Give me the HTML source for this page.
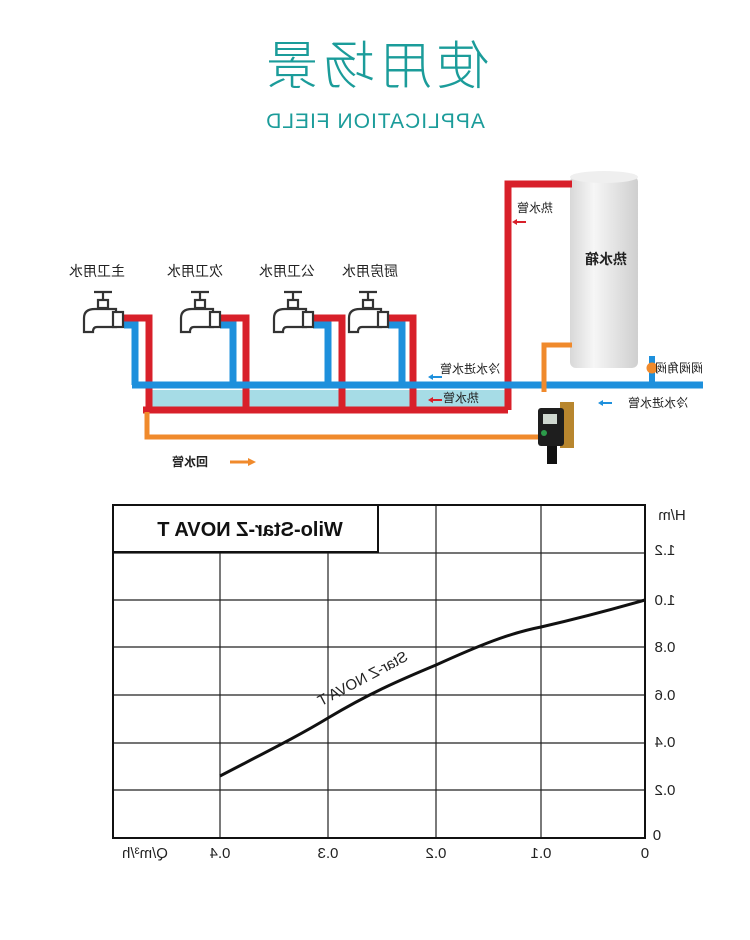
<!DOCTYPE html>
<html><head><meta charset="utf-8"><style>
html,body{margin:0;padding:0;background:#fff;}
svg{display:block;}
text{font-family:"Liberation Sans","Noto Sans CJK SC",sans-serif;}
</style></head><body>
<svg width="750" height="940" viewBox="0 0 750 940" xmlns="http://www.w3.org/2000/svg">
<text transform="translate(375,84) scale(-1,1)" text-anchor="middle" font-size="52" fill="#1b9c9a" font-family="Noto Sans CJK SC, sans-serif" font-weight="300" letter-spacing="5">使用场景</text>
<text transform="translate(375,128) scale(-1,1)" text-anchor="middle" font-size="21" fill="#1b9c9a" letter-spacing="1">APPLICATION FIELD</text>

<defs><linearGradient id="tk" x1="0" x2="1"><stop offset="0" stop-color="#d8d8d8"/><stop offset="0.35" stop-color="#f6f6f6"/><stop offset="1" stop-color="#cfcfcf"/></linearGradient></defs>
<rect x="570" y="176" width="68" height="192" rx="6" fill="url(#tk)"/>
<ellipse cx="604" cy="177" rx="34" ry="6" fill="#efefef"/>
<text transform="translate(606,264) scale(-1,1)" text-anchor="middle" font-size="14" font-weight="bold" fill="#222">热水箱</text>

<rect x="150" y="390" width="358" height="17" fill="#a6dce6"/>
<path d="M508 410 V184 H572" fill="none" stroke="#d8202a" stroke-width="7"/>
<path d="M143 410 H508" fill="none" stroke="#d8202a" stroke-width="7"/>
<path d="M124 318 H149 V410" fill="none" stroke="#d8202a" stroke-width="7"/>
<path d="M220 318 H246 V410" fill="none" stroke="#d8202a" stroke-width="7"/>
<path d="M313 318 H342 V410" fill="none" stroke="#d8202a" stroke-width="7"/>
<path d="M388 318 H413 V410" fill="none" stroke="#d8202a" stroke-width="7"/>
<path d="M124 325 H135 V385" fill="none" stroke="#1e90dc" stroke-width="7"/>
<path d="M220 325 H233 V385" fill="none" stroke="#1e90dc" stroke-width="7"/>
<path d="M313 325 H328 V385" fill="none" stroke="#1e90dc" stroke-width="7"/>
<path d="M388 325 H402 V385" fill="none" stroke="#1e90dc" stroke-width="7"/>
<path d="M132 385 H703" fill="none" stroke="#1e90dc" stroke-width="7"/>
<path d="M652 385 V356" fill="none" stroke="#1e90dc" stroke-width="6"/>
<circle cx="652" cy="368" r="5.5" fill="#f08a2c"/>
<path d="M572 345 H544 V392" fill="none" stroke="#f08a2c" stroke-width="5"/>
<path d="M147 412 V437 H540" fill="none" stroke="#f08a2c" stroke-width="5"/>
<rect x="560" y="402" width="14" height="46" fill="#b8862e"/>
<rect x="538" y="408" width="26" height="38" rx="3" fill="#1e1e1e"/>
<rect x="543" y="414" width="14" height="10" fill="#cfd8d0"/>
<circle cx="544" cy="433" r="3" fill="#2c9c4a"/>
<rect x="547" y="446" width="10" height="18" fill="#111"/>
<g fill="#fff" stroke="#333" stroke-width="2.2">
<g id="f1">
<path d="M94 292 H112 M103 292 V300"/>
<rect x="98" y="300" width="10" height="8"/>
<path d="M84 332 V318 Q84 309 95 309 H116 V327 H97 Q93 327 93 332 Z"/>
<rect x="113" y="312" width="10" height="15"/>
</g>
<use href="#f1" x="97"/>
<use href="#f1" x="190"/>
<use href="#f1" x="265"/>
</g>
<g font-size="14" fill="#222">
<text transform="translate(97,276) scale(-1,1)" text-anchor="middle">主卫用水</text>
<text transform="translate(195,276) scale(-1,1)" text-anchor="middle">次卫用水</text>
<text transform="translate(287,276) scale(-1,1)" text-anchor="middle">公卫用水</text>
<text transform="translate(370,276) scale(-1,1)" text-anchor="middle">厨房用水</text>
<text transform="translate(535,212) scale(-1,1)" text-anchor="middle" font-size="12">热水管</text>
<text transform="translate(470,373) scale(-1,1)" text-anchor="middle" font-size="12">冷水进水管</text>
<text transform="translate(461,402) scale(-1,1)" text-anchor="middle" font-size="12">热水管</text>
<text transform="translate(658,407) scale(-1,1)" text-anchor="middle" font-size="12">冷水进水管</text>
<text transform="translate(679,372) scale(-1,1)" text-anchor="middle" font-size="12">阀阀角阀</text>
<text transform="translate(190,466) scale(-1,1)" text-anchor="middle" font-size="12" font-weight="bold">回水管</text>
</g>
<path d="M526 222 H514" stroke="#d8202a" stroke-width="2"/><path d="M512 222 l5 -3 v6z" fill="#d8202a"/>
<path d="M442 377 H432" stroke="#1e90dc" stroke-width="2"/><path d="M428 377 l5 -3 v6z" fill="#1e90dc"/>
<path d="M442 400 H432" stroke="#d8202a" stroke-width="2"/><path d="M428 400 l5 -3 v6z" fill="#d8202a"/>
<path d="M612 403 H602" stroke="#1e90dc" stroke-width="2"/><path d="M598 403 l5 -3 v6z" fill="#1e90dc"/>
<path d="M230 462 H248" stroke="#f08a2c" stroke-width="3"/><path d="M256 462 l-8 -4 v8z" fill="#f08a2c"/>

<g stroke="#222" stroke-width="1.2" fill="none">
<line x1="113" y1="553" x2="645" y2="553"/>
<line x1="113" y1="600" x2="645" y2="600"/>
<line x1="113" y1="647" x2="645" y2="647"/>
<line x1="113" y1="695" x2="645" y2="695"/>
<line x1="113" y1="743" x2="645" y2="743"/>
<line x1="113" y1="790" x2="645" y2="790"/>
<line x1="220" y1="553" x2="220" y2="838"/>
<line x1="328" y1="553" x2="328" y2="838"/>
<line x1="436" y1="505" x2="436" y2="838"/>
<line x1="541" y1="505" x2="541" y2="838"/>
</g>
<rect x="113" y="505" width="532" height="333" fill="none" stroke="#111" stroke-width="2"/>
<rect x="113" y="505" width="265" height="47" fill="#fff" stroke="#111" stroke-width="2"/>
<text transform="translate(250,536) scale(-1,1)" text-anchor="middle" font-size="20" font-weight="bold" fill="#111">Wilo-Star-Z NOVA T</text>
<path d="M220 776 C270 750 300 735 328 718 C370 693 400 680 436 665 C480 645 510 633 541 627 C580 618 610 610 645 600" fill="none" stroke="#111" stroke-width="3"/>
<text transform="translate(365,683) rotate(-28) scale(-1,1)" text-anchor="middle" font-size="15" fill="#222">Star-Z NOVA T</text>
<g font-size="15" fill="#222">
<text transform="translate(672,520) scale(-1,1)" text-anchor="middle">H/m</text>
<text transform="translate(665,555) scale(-1,1)" text-anchor="middle">1.2</text>
<text transform="translate(665,605) scale(-1,1)" text-anchor="middle">1.0</text>
<text transform="translate(665,652) scale(-1,1)" text-anchor="middle">0.8</text>
<text transform="translate(665,700) scale(-1,1)" text-anchor="middle">0.6</text>
<text transform="translate(665,747) scale(-1,1)" text-anchor="middle">0.4</text>
<text transform="translate(665,795) scale(-1,1)" text-anchor="middle">0.2</text>
<text transform="translate(657,840) scale(-1,1)" text-anchor="middle">0</text>
<text transform="translate(645,858) scale(-1,1)" text-anchor="middle">0</text>
<text transform="translate(541,858) scale(-1,1)" text-anchor="middle">0.1</text>
<text transform="translate(436,858) scale(-1,1)" text-anchor="middle">0.2</text>
<text transform="translate(328,858) scale(-1,1)" text-anchor="middle">0.3</text>
<text transform="translate(220,858) scale(-1,1)" text-anchor="middle">0.4</text>
<text transform="translate(145,858) scale(-1,1)" text-anchor="middle">Q/m³/h</text>
</g>
</svg>
</body></html>
